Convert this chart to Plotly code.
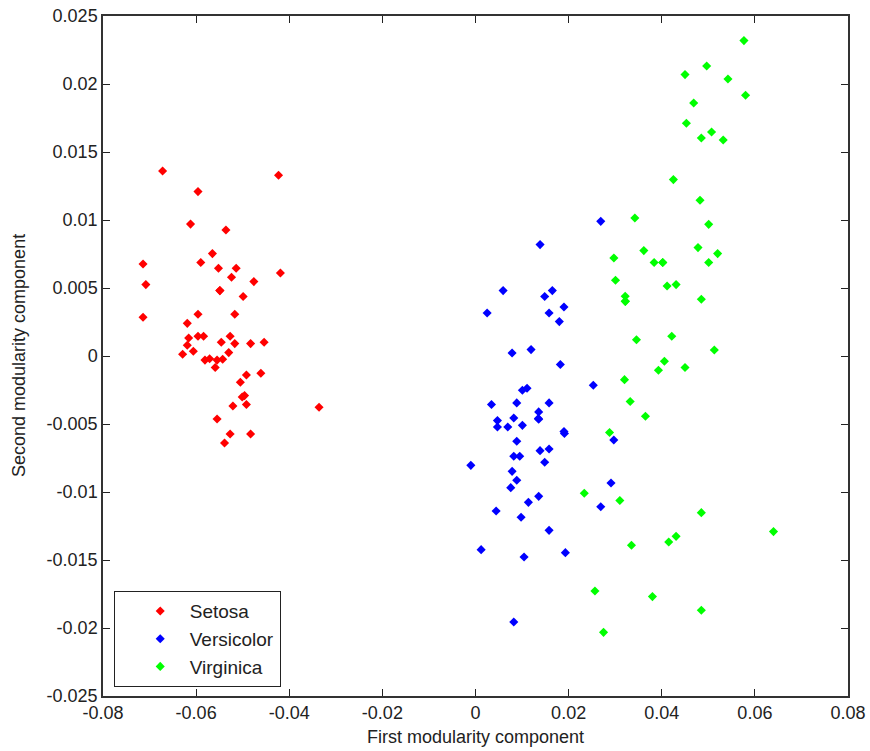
import plotly.graph_objects as go

setosa_x = [-0.0672, -0.0423, -0.0596, -0.0612, -0.0536, -0.0565, -0.0714, -0.0590, -0.0552, -0.0514,
            -0.0419, -0.0524, -0.0708, -0.0476, -0.0549, -0.0499, -0.0714, -0.0596, -0.0517, -0.0619,
            -0.0616, -0.0596, -0.0584, -0.0527, -0.0619, -0.0546, -0.0517, -0.0483, -0.0454, -0.0606,
            -0.0629, -0.0530, -0.0581, -0.0571, -0.0555, -0.0543, -0.0559, -0.0492, -0.0461, -0.0505,
            -0.0501, -0.0496, -0.0521, -0.0492, -0.0336, -0.0555, -0.0527, -0.0483, -0.0539, -0.0549]
setosa_y = [0.0136, 0.01329, 0.01209, 0.0097, 0.00926, 0.00753, 0.00677, 0.00687, 0.00645, 0.00645,
            0.0061, 0.00579, 0.00525, 0.00547, 0.00481, 0.00437, 0.00285, 0.00307, 0.00307, 0.0024,
            0.00132, 0.00145, 0.00145, 0.00145, 0.00079, 0.00101, 0.00091, 0.00091, 0.00101, 0.00035,
            0.00013, 0.00025, -0.0003, -0.0002, -0.0003, -0.00024, -0.00085, -0.0014, -0.00127, -0.00193,
            -0.00301, -0.00291, -0.00368, -0.00357, -0.00377, -0.00463, -0.00573, -0.00573, -0.0064, 0.00481]

versicolor_x = [0.0269, 0.01387, 0.00593, 0.0165, 0.01486, 0.0190, 0.0025, 0.0158, 0.0180, 0.00786,
                0.01193, 0.01822, 0.0253, 0.01007, 0.01107, 0.00343, 0.00886, 0.0158, 0.01357, 0.00822,
                0.00471, 0.01357, 0.00471, 0.00693, 0.01007, 0.0190, 0.00886, 0.0297, 0.00822, 0.0095,
                0.01386, 0.0158, -0.0010, 0.01486, 0.00786, 0.00886, 0.00757, 0.0291, 0.01357, 0.01136,
                0.0269, 0.00443, 0.00979, 0.0158, 0.00121, 0.01043, 0.0193, 0.00822, 0.0191, 0.0135]
versicolor_y = [0.0099, 0.00819, 0.00481, 0.00481, 0.00437, 0.0036, 0.00316, 0.00316, 0.00253, 0.00022,
                0.00047, -0.00063, -0.00215, -0.00252, -0.00237, -0.00357, -0.00345, -0.00345, -0.00411, -0.00456,
                -0.00475, -0.00465, -0.00522, -0.00522, -0.0051, -0.00556, -0.00627, -0.00618, -0.00737, -0.00737,
                -0.00696, -0.00684, -0.00804, -0.00781, -0.00848, -0.00914, -0.00968, -0.00934, -0.01032, -0.01076,
                -0.01108, -0.0114, -0.01186, -0.01282, -0.01424, -0.01478, -0.01446, -0.01956, -0.0057, -0.0046]

virginica_x = [0.05765, 0.04965, 0.0450, 0.05422, 0.0580, 0.04686, 0.04529, 0.0507, 0.0485, 0.0532,
               0.0425, 0.04822, 0.03422, 0.05008, 0.03615, 0.04779, 0.02972, 0.0520, 0.03836, 0.04022,
               0.05008, 0.03007, 0.04115, 0.04308, 0.0485, 0.03215, 0.03215, 0.03457, 0.04215, 0.05129,
               0.04057, 0.03929, 0.0450, 0.0320, 0.03322, 0.0365, 0.02879, 0.02336, 0.0310, 0.0485,
               0.0640, 0.0335, 0.0415, 0.04308, 0.02565, 0.0380, 0.0485, 0.0275, 0.0322, 0.0402]
virginica_y = [0.02319, 0.02132, 0.02069, 0.02037, 0.01917, 0.0186, 0.01711, 0.01647, 0.01603, 0.01588,
               0.01297, 0.01145, 0.01015, 0.00968, 0.00775, 0.00797, 0.00721, 0.00753, 0.00687, 0.00687,
               0.00687, 0.00557, 0.00515, 0.00525, 0.00417, 0.00439, 0.00402, 0.0012, 0.00145, 0.00044,
               -0.00039, -0.00105, -0.00085, -0.00174, -0.00335, -0.00443, -0.00563, -0.01009, -0.01063, -0.01152,
               -0.01291, -0.01392, -0.01368, -0.01326, -0.01728, -0.01769, -0.0187, -0.02032, 0.00402, 0.00687]

series = [("Setosa", setosa_x, setosa_y, "#ff0000"),
          ("Versicolor", versicolor_x, versicolor_y, "#0000ff"),
          ("Virginica", virginica_x, virginica_y, "#00ff00")]

x_ticks = [-0.08, -0.06, -0.04, -0.02, 0, 0.02, 0.04, 0.06, 0.08]
x_tick_labels = ["-0.08", "-0.06", "-0.04", "-0.02", "0", "0.02", "0.04", "0.06", "0.08"]
y_ticks = [-0.025, -0.02, -0.015, -0.01, -0.005, 0, 0.005, 0.01, 0.015, 0.02, 0.025]
y_tick_labels = ["-0.025", "-0.02", "-0.015", "-0.01", "-0.005", "0", "0.005", "0.01", "0.015", "0.02", "0.025"]
x_title = "First modularity component"
y_title = "Second modularity component"

FONT = "Liberation Sans, Arial, sans-serif"
TXT = "#222222"

fig = go.Figure()
for name, xs, ys, col in series:
    fig.add_trace(go.Scatter(x=xs, y=ys, mode="markers", name=name,
                             marker=dict(symbol="diamond", size=7, color=col, line=dict(width=0))))

axis_common = dict(showgrid=False, zeroline=False, ticks="inside", ticklen=7, tickwidth=1,
                   tickcolor=TXT, showline=True, linecolor="#333333", linewidth=1.5,
                   mirror="ticks", automargin=False, ticklabeloverflow="allow",
                   tickfont=dict(family=FONT, size=18, color=TXT))

fig.update_layout(
    template="none",
    width=870, height=751,
    margin=dict(l=103, r=22, t=16, b=55, pad=0),
    paper_bgcolor="white", plot_bgcolor="white",
    font=dict(family=FONT, size=18, color=TXT),
    xaxis=dict(range=[-0.08, 0.08], tickvals=x_ticks, ticktext=x_tick_labels, **axis_common),
    yaxis=dict(range=[-0.025, 0.025], tickvals=y_ticks, ticktext=y_tick_labels, **axis_common),
    legend=dict(x=0.0144, y=0.013, xanchor="left", yanchor="bottom",
                bordercolor=TXT, borderwidth=1, bgcolor="white",
                font=dict(size=19, color=TXT), indentation=16, itemwidth=49,
                tracegroupgap=0),
    showlegend=True,
    annotations=[
        dict(text=x_title, xref="paper", yref="paper", x=0.5, y=0, yshift=-41,
             xanchor="center", yanchor="middle", showarrow=False,
             font=dict(family=FONT, size=18, color=TXT)),
        dict(text=y_title, xref="paper", yref="paper", x=0, y=0.5, xshift=-84,
             xanchor="center", yanchor="middle", textangle=-90, showarrow=False,
             font=dict(family=FONT, size=18, color=TXT)),
    ],
)

fig.write_html("out.html", config={"displayModeBar": False},
               post_script="document.body.style.margin='0';document.body.style.overflow='hidden';")
